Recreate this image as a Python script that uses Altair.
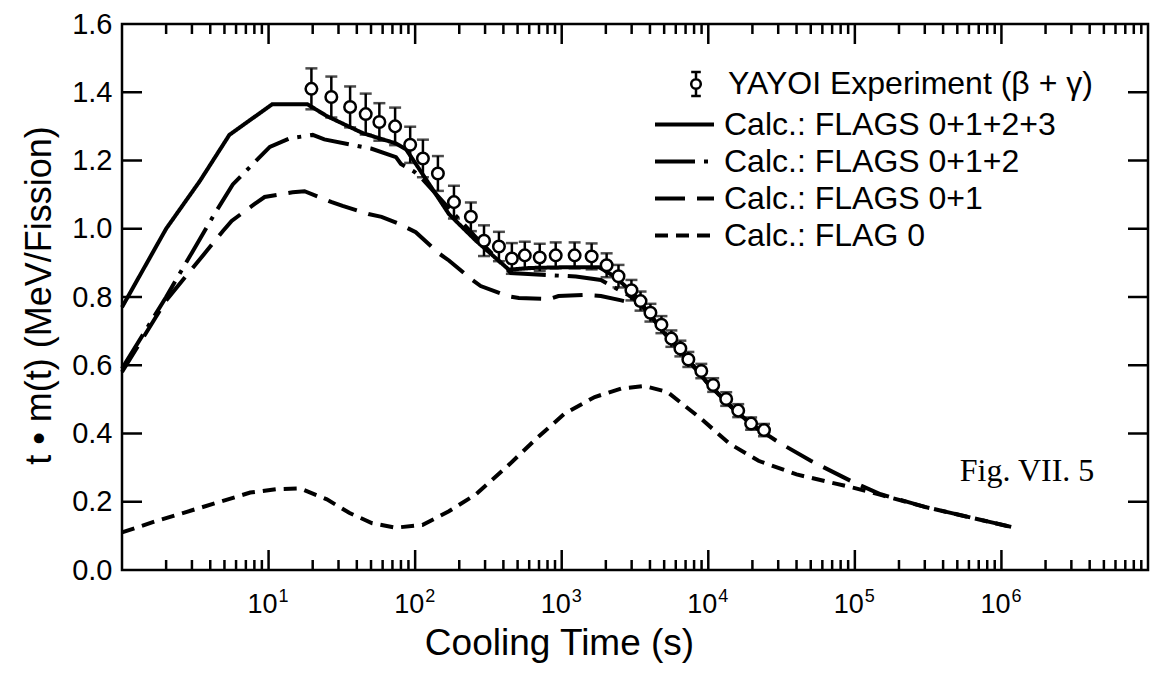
import altair as alt
import pandas as pd

W, H = 1026, 546
FONT = "Liberation Sans"

# ---------------- data ----------------
exp_label = "YAYOI Experiment (β + γ)"
exp_t = [19.6, 26.8, 36, 46, 57, 73, 92.5, 113, 143, 184, 240, 295, 373, 457, 560, 708,
         910, 1225, 1600, 2025, 2440, 2990, 3450, 4030, 4790, 5600, 6450, 7310, 8960,
         10800, 13250, 16000, 19600, 24000]
exp_y = [1.41, 1.386, 1.357, 1.336, 1.313, 1.30, 1.246, 1.206, 1.162, 1.078, 1.035, 0.965,
         0.948, 0.913, 0.922, 0.916, 0.922, 0.922, 0.919, 0.893, 0.861, 0.820, 0.788, 0.754,
         0.719, 0.678, 0.649, 0.617, 0.583, 0.542, 0.501, 0.467, 0.429, 0.410]
exp_err = [0.06, 0.06, 0.06, 0.06, 0.055, 0.055, 0.053, 0.055, 0.051, 0.048, 0.042, 0.045,
           0.043, 0.045, 0.04, 0.04, 0.038, 0.038, 0.038, 0.035, 0.033, 0.03, 0.028, 0.026,
           0.025, 0.024, 0.023, 0.022, 0.021, 0.02, 0.02, 0.019, 0.018, 0.018]

series_names = ["Calc.: FLAGS 0+1+2+3", "Calc.: FLAGS 0+1+2",
                "Calc.: FLAGS 0+1", "Calc.: FLAG 0"]

s3_t = [1, 2, 3.4, 5.4, 10.6, 18.4, 25, 44, 74, 87, 100, 130, 170, 260, 436, 600, 1000,
        1800, 2300, 3000, 3500, 4000, 5000, 7000, 10000, 15000, 20000, 25000]
s3_y = [0.77, 1.0, 1.14, 1.275, 1.365, 1.365, 1.33, 1.28, 1.25, 1.232, 1.193, 1.119, 1.043,
        0.965, 0.88, 0.885, 0.887, 0.887, 0.86, 0.815, 0.78, 0.748, 0.695, 0.625, 0.545,
        0.47, 0.425, 0.395]

s2_t = [1, 2, 3, 4.3, 5.7, 10.2, 14, 20, 24, 50, 74, 80, 98, 110, 170, 260, 450, 1250,
        1850, 2870, 3500, 4000, 5000, 7000, 10000, 15000, 20000, 25000]
s2_y = [0.59, 0.80, 0.93, 1.045, 1.13, 1.24, 1.265, 1.275, 1.262, 1.235, 1.21, 1.19, 1.168,
        1.15, 1.06, 0.975, 0.87, 0.86, 0.85, 0.805, 0.778, 0.748, 0.695, 0.625, 0.545,
        0.47, 0.425, 0.395]

s1_t = [1, 2, 3.8, 4.9, 5.6, 8, 9.4, 14.6, 17.6, 27, 32, 48, 59, 78, 101, 145, 170, 245,
        280, 425, 510, 820, 950, 1450, 1850, 2550, 3500, 4000, 5000, 7000, 10000, 15000,
        20000, 30000, 50000, 100000, 150000, 300000, 600000, 1200000]
s1_y = [0.58, 0.79, 0.936, 0.994, 1.023, 1.072, 1.093, 1.107, 1.11, 1.078, 1.067, 1.043,
        1.035, 1.014, 0.99, 0.928, 0.907, 0.85, 0.832, 0.803, 0.797, 0.794, 0.803, 0.806,
        0.803, 0.79, 0.775, 0.748, 0.695, 0.625, 0.545, 0.47, 0.425, 0.375, 0.32, 0.255,
        0.222, 0.185, 0.155, 0.125]

s0_t = [1, 1.67, 3.4, 7.5, 11.4, 16.4, 25, 35.7, 51, 73.6, 112, 170, 260, 421, 680, 1037,
        1680, 2555, 3660, 5250, 9000, 14000, 22000, 40000, 100000, 150000, 300000, 600000,
        1200000]
s0_y = [0.11, 0.142, 0.182, 0.227, 0.237, 0.239, 0.207, 0.167, 0.137, 0.124, 0.132, 0.172,
        0.222, 0.302, 0.387, 0.457, 0.507, 0.532, 0.539, 0.522, 0.442, 0.37, 0.32, 0.28,
        0.24, 0.22, 0.185, 0.155, 0.125]

x_major = [10, 100, 1000, 10000, 100000, 1000000]
x_exps = ["1", "2", "3", "4", "5", "6"]
x_minor = [m * 10 ** k for k in range(7) for m in range(2, 10)]
y_ticks = [0.2, 0.4, 0.6, 0.8, 1.0, 1.2, 1.4]
y_labels = [0.0, 0.2, 0.4, 0.6, 0.8, 1.0, 1.2, 1.4, 1.6]

fig_label = "Fig.  VII. 5"
fig_t = [5.2e5]
fig_y = [0.29]

# ---------------- tables ----------------
lines = pd.concat([
    pd.DataFrame({"t": s3_t, "y": s3_y, "series": series_names[0]}),
    pd.DataFrame({"t": s2_t, "y": s2_y, "series": series_names[1]}),
    pd.DataFrame({"t": s1_t, "y": s1_y, "series": series_names[2]}),
    pd.DataFrame({"t": s0_t, "y": s0_y, "series": series_names[3]}),
], ignore_index=True)

exp = pd.DataFrame({"t": exp_t, "y": exp_y, "err": exp_err})
exp["lo"] = exp["y"] - exp["err"]
exp["hi"] = exp["y"] + exp["err"]
exp["kind"] = exp_label

xmaj = pd.DataFrame({"t": x_major, "e": x_exps})
xmin = pd.DataFrame({"t": x_minor})
ytk = pd.DataFrame({"y": y_ticks})
figdf = pd.DataFrame({"t": fig_t, "y": fig_y, "txt": [fig_label]})

xs = alt.Scale(type="log", domain=[1, 1e7])
ys = alt.Scale(domain=[0, 1.6], nice=False, zero=False)

X = alt.X("t:Q", scale=xs)

# ---------------- layers ----------------
dash_range = [[1, 0], [40, 9, 4, 9], [30, 12], [13, 8]]

line_layer = alt.Chart(lines).mark_line(color="black", strokeWidth=4).encode(
    x=alt.X("t:Q", scale=xs, axis=alt.Axis(
        labels=False, ticks=False, tickSize=0, domain=False, grid=False,
        title="Cooling Time (s)", titleFont=FONT, titleFontSize=37,
        titleFontWeight="normal", titleColor="black",
        titleX=437, titleY=84, titleAlign="center", titleBaseline="alphabetic")),
    y=alt.Y("y:Q", scale=ys, axis=alt.Axis(
        values=y_labels, format=".1f", labelFont=FONT, labelFontSize=29,
        labelColor="black", labelPadding=10, ticks=False, tickSize=0,
        domain=False, grid=False, title="t • m(t) (MeV/Fission)", titleFont=FONT,
        titleFontSize=36, titleFontWeight="normal", titleColor="black",
        titleX=-72, titleY=H / 2 - 2, titleAlign="center", titleBaseline="alphabetic")),
    strokeDash=alt.StrokeDash("series:N", scale=alt.Scale(domain=series_names, range=dash_range),
                              legend=alt.Legend(
                                  title=None, orient="none", legendX=531, legendY=82,
                                  symbolType="stroke", symbolSize=3481, symbolStrokeWidth=4,
                                  symbolStrokeColor="black", labelFont=FONT, labelFontSize=32,
                                  labelColor="black", labelOffset=8, labelLimit=700,
                                  clipHeight=37, rowPadding=0, padding=0)),
    detail="series:N",
)

err_rule = alt.Chart(exp).mark_rule(color="black", strokeWidth=2.5).encode(
    x=X, y=alt.Y("lo:Q", scale=ys), y2="hi:Q",
)
cap_hi = alt.Chart(exp).mark_tick(color="black", thickness=2.5, size=12, orient="horizontal").encode(
    x=X, y=alt.Y("hi:Q", scale=ys))
cap_lo = alt.Chart(exp).mark_tick(color="black", thickness=2.5, size=12, orient="horizontal").encode(
    x=X, y=alt.Y("lo:Q", scale=ys))

SYM = ("M -0.4 0 A 0.4 0.4 0 1 0 0.4 0 A 0.4 0.4 0 1 0 -0.4 0 Z "
       "M 0 -0.4 L 0 -1 M -0.4 -1 L 0.4 -1 M 0 0.4 L 0 1 M -0.4 1 L 0.4 1")

pts = alt.Chart(exp).mark_point(filled=True, shape="circle", size=133, stroke="black",
                                strokeWidth=2.5, opacity=1).encode(
    x=X,
    y=alt.Y("y:Q", scale=ys),
    fill=alt.Fill("kind:N", scale=alt.Scale(domain=[exp_label], range=["white"]),
                  legend=alt.Legend(title=None, orient="none", legendX=558, legendY=44,
                                    symbolType=SYM, symbolSize=576, symbolStrokeColor="black",
                                    symbolStrokeWidth=2.5, symbolFillColor="white",
                                    labelFont=FONT, labelFontSize=32, labelColor="black",
                                    labelOffset=16, labelLimit=700, padding=0)),
)

# inward axis ticks
def xtick(df, y0, y1):
    return alt.Chart(df).mark_rule(color="black", strokeWidth=2.5).encode(
        x=X, y=alt.value(y0), y2=alt.value(y1))

def ytick(x0, x1):
    return alt.Chart(ytk).mark_rule(color="black", strokeWidth=2.5).encode(
        y=alt.Y("y:Q", scale=ys), x=alt.value(x0), x2=alt.value(x1))

ticks = [xtick(xmaj, H, H - 20), xtick(xmaj, 0, 20), xtick(xmin, H, H - 10), xtick(xmin, 0, 10),
         ytick(0, 20), ytick(W, W - 20)]

lab10 = alt.Chart(xmaj).mark_text(text="10", font=FONT, fontSize=27, color="black",
                                  align="center", baseline="alphabetic", dx=-6).encode(
    x=X, y=alt.value(H + 43))
labexp = alt.Chart(xmaj).mark_text(font=FONT, fontSize=18, color="black",
                                   align="left", baseline="alphabetic", dx=10).encode(
    x=X, y=alt.value(H + 32), text="e:N")

fig = alt.Chart(figdf).mark_text(font="Liberation Serif", fontSize=32, color="black",
                                 align="left", baseline="middle").encode(
    x=X, y=alt.Y("y:Q", scale=ys), text="txt:N")

chart = alt.layer(
    line_layer, *ticks, err_rule, cap_hi, cap_lo, pts, lab10, labexp, fig
).properties(
    width=W, height=H, autosize="none",
    padding={"left": 114, "top": 16, "right": 6, "bottom": 100},
    background="white",
).configure_view(stroke="black", strokeWidth=2.5)

chart.save("out.html", embed_options={"renderer": "svg", "actions": False})
